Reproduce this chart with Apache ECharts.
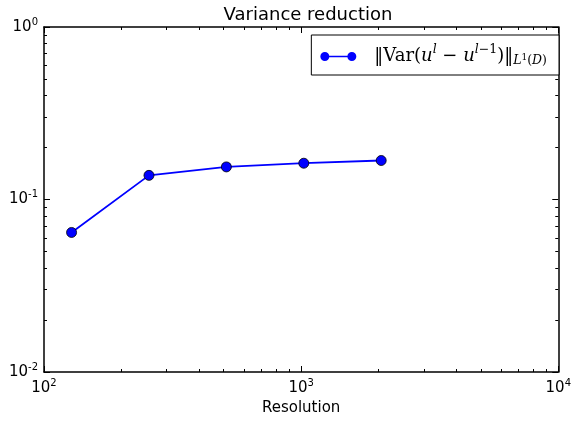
<!DOCTYPE html>
<html>
<head>
<meta charset="utf-8">
<script src="https://cdn.jsdelivr.net/npm/echarts@6/dist/echarts.min.js"></script>
<style>html,body{margin:0;padding:0;background:#fff}#c{width:574px;height:422px}</style>
</head>
<body>
<div id="c"></div>
<script>
const resolutions = [128, 256, 512, 1024, 2048];
const varianceNorm = [0.0644, 0.138, 0.1545, 0.1623, 0.1683];
const xTicks = [100, 1000, 10000];
const yTicks = [0.01, 0.1, 1];
const titleText = 'Variance reduction';
const xName = 'Resolution';
const seriesName = 'varnorm';

const SANS = 'DejaVu Sans';
const SERIF = 'DejaVu Serif, serif';

function powLabel(v) {
  const e = Math.round(Math.log10(v));
  return '{b|10}{s|' + (e < 0 ? '-' + (-e) : e) + '}';
}
const labelRich = {
  b: { fontFamily: SANS, fontSize: 15, color: '#000' },
  s: { fontFamily: SANS, fontSize: 10, color: '#000', padding: [0, 0, 10, 0] }
};

function makeX(pos, show) {
  return {
    type: 'log', logBase: 10, min: xTicks[0], max: xTicks[xTicks.length - 1],
    position: pos, gridIndex: 0,
    axisLine: { show: true, lineStyle: { color: '#000', width: 1.5 } },
    axisTick: { show: true, inside: true, length: 6, lineStyle: { color: '#000', width: 1 } },
    minorTick: { show: true, splitNumber: 9, length: 3, lineStyle: { color: '#000', width: 1 } },
    splitLine: { show: false }, minorSplitLine: { show: false },
    axisLabel: { show: show, margin: 6, formatter: powLabel, rich: labelRich },
    name: show ? xName : '', nameLocation: 'middle', nameGap: 29,
    nameTextStyle: { fontFamily: SANS, fontSize: 15, color: '#000' }
  };
}
function makeY(pos, show) {
  return {
    type: 'log', logBase: 10, min: yTicks[0], max: yTicks[yTicks.length - 1],
    position: pos, gridIndex: 0,
    axisLine: { show: true, lineStyle: { color: '#000', width: 1.5 } },
    axisTick: { show: true, inside: true, length: 6, lineStyle: { color: '#000', width: 1 } },
    minorTick: { show: true, splitNumber: 9, length: 3, lineStyle: { color: '#000', width: 1 } },
    splitLine: { show: false }, minorSplitLine: { show: false },
    axisLabel: { show: show, margin: 6, formatter: powLabel, rich: labelRich }
  };
}

const chart = echarts.init(document.getElementById('c'), null, { renderer: 'canvas' });
chart.setOption({
  animation: false,
  backgroundColor: '#fff',
  title: {
    text: titleText, left: 303, top: 1, textAlign: 'center',
    textStyle: { fontFamily: SANS, fontSize: 18, fontWeight: 'normal', color: '#000' }
  },
  grid: { left: 44, right: 12, top: 27, bottom: 50, containLabel: false },
  xAxis: [makeX('bottom', true), makeX('top', false)],
  yAxis: [makeY('left', true), makeY('right', false)],
  legend: {
    right: 15, top: 35,
    orient: 'horizontal',
    padding: [8, 12, 8, 9],
    borderColor: '#000', borderWidth: 1, backgroundColor: '#fff',
    itemWidth: 36, itemHeight: 9,
    icon: 'path://M0,5A5,5 0 1,1 10,5A5,5 0 1,1 0,5Z M9,4.3L31,4.3L31,5.7L9,5.7Z M30,5A5,5 0 1,1 40,5A5,5 0 1,1 30,5Z',
    itemStyle: { borderWidth: 0 },
    data: [seriesName],
    formatter: function () {
      return '{n0|‖Var(}{i|u}{sp|l}{n| − }{i|u}{sp|l}{spn|−1}{n|)‖}{sb|L}{sbs|1}{sbn|(}{sb|D}{sbn|)}';
    },
    textStyle: {
      fontFamily: SERIF, fontSize: 18, color: '#000',
      rich: {
        n0: { fontFamily: SERIF, fontSize: 18, padding: [0, 0, 0, 13] },
        n: { fontFamily: SERIF, fontSize: 18 },
        i: { fontFamily: SERIF, fontSize: 18, fontStyle: 'italic' },
        sp: { fontFamily: SERIF, fontSize: 12.5, fontStyle: 'italic', padding: [0, 0, 14, 0] },
        spn: { fontFamily: SERIF, fontSize: 12.5, padding: [0, 0, 14, 0] },
        sb: { fontFamily: SERIF, fontSize: 12.5, fontStyle: 'italic', padding: [8, 0, 0, 0] },
        sbn: { fontFamily: SERIF, fontSize: 12.5, padding: [8, 0, 0, 0] },
        sbs: { fontFamily: SERIF, fontSize: 9, padding: [2, 0, 0, 0] }
      }
    }
  },
  series: [{
    name: seriesName,
    type: 'line',
    xAxisIndex: 0, yAxisIndex: 0,
    data: resolutions.map((x, i) => [x, varianceNorm[i]]),
    symbol: 'circle', symbolSize: 10,
    lineStyle: { color: '#0000ff', width: 1.8 },
    itemStyle: { color: '#0000ff', borderColor: '#000', borderWidth: 0.8 }
  }]
});
</script>
</body>
</html>
